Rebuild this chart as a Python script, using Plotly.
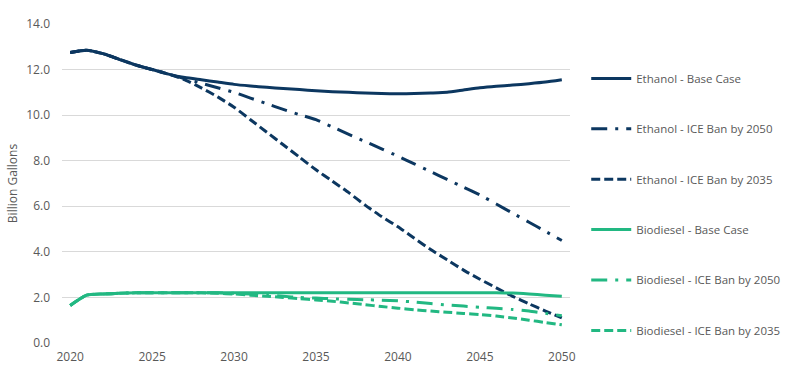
import plotly.graph_objects as go

years = list(range(2020, 2051))

ethanol_base = [12.75, 12.85, 12.7, 12.45, 12.2, 12.0, 11.8, 11.65, 11.55, 11.45,
                11.35, 11.28, 11.22, 11.17, 11.12, 11.07, 11.03, 11.0, 10.97, 10.95,
                10.94, 10.95, 10.97, 11.0, 11.1, 11.2, 11.27, 11.32, 11.38, 11.45, 11.55]

ethanol_ice2050 = [12.75, 12.85, 12.7, 12.45, 12.2, 12.0, 11.8, 11.6, 11.4, 11.2,
                   11.0, 10.75, 10.5, 10.25, 10.02, 9.8, 9.48, 9.16, 8.84, 8.52,
                   8.2, 7.86, 7.52, 7.18, 6.84, 6.5, 6.1, 5.7, 5.3, 4.9, 4.5]

ethanol_ice2035 = [12.75, 12.85, 12.7, 12.45, 12.2, 12.0, 11.8, 11.55, 11.2, 10.8,
                   10.35, 9.8, 9.25, 8.7, 8.15, 7.6, 7.1, 6.6, 6.05, 5.55,
                   5.1, 4.6, 4.1, 3.65, 3.2, 2.8, 2.42, 2.05, 1.72, 1.4, 1.1]

biodiesel_base = [1.65, 2.1, 2.15, 2.18, 2.2, 2.2, 2.2, 2.2, 2.2, 2.2,
                  2.2, 2.2, 2.2, 2.2, 2.2, 2.2, 2.2, 2.2, 2.2, 2.2,
                  2.2, 2.2, 2.2, 2.2, 2.2, 2.2, 2.2, 2.19, 2.15, 2.1, 2.05]

biodiesel_ice2050 = [1.65, 2.1, 2.15, 2.18, 2.2, 2.2, 2.2, 2.2, 2.2, 2.2,
                     2.18, 2.15, 2.1, 2.05, 2.0, 1.97, 1.94, 1.92, 1.9, 1.88,
                     1.85, 1.8, 1.73, 1.67, 1.62, 1.57, 1.52, 1.47, 1.4, 1.3, 1.2]

biodiesel_ice2035 = [1.65, 2.1, 2.15, 2.18, 2.2, 2.2, 2.2, 2.2, 2.2, 2.18,
                     2.15, 2.1, 2.05, 2.0, 1.95, 1.89, 1.83, 1.76, 1.68, 1.6,
                     1.53, 1.46, 1.4, 1.35, 1.3, 1.25, 1.18, 1.1, 1.0, 0.9, 0.8]

names = ["Ethanol - Base Case", "Ethanol - ICE Ban by 2050", "Ethanol - ICE Ban by 2035",
         "Biodiesel - Base Case", "Biodiesel - ICE Ban by 2050", "Biodiesel - ICE Ban by 2035"]

NAVY = "#0c3760"
GREEN = "#22b882"
series = [
    (ethanol_base, NAVY, "solid"),
    (ethanol_ice2050, NAVY, "16px,8px,3px,8px"),
    (ethanol_ice2035, NAVY, "9px,4px"),
    (biodiesel_base, GREEN, "solid"),
    (biodiesel_ice2050, GREEN, "16px,8px,3px,8px"),
    (biodiesel_ice2035, GREEN, "9px,4px"),
]

fig = go.Figure()
# draw scenario lines first, base cases on top
order = [1, 2, 0, 4, 5, 3]
for i in order:
    vals, col, dash = series[i]
    fig.add_trace(go.Scatter(
        x=years, y=vals, mode="lines", name=names[i],
        line=dict(color=col, width=3, dash=dash, shape="spline", smoothing=0.5),
        legendgroup=names[i], legendrank=i + 1,
    ))

fig.update_layout(
    width=789, height=376,
    margin=dict(l=62, r=219, t=24, b=33),
    paper_bgcolor="white", plot_bgcolor="white",
    font=dict(family="Open Sans", size=12, color="#595959"),
    showlegend=True,
    legend=dict(xref="container", yref="paper",
                x=0.743, y=0.875, xanchor="left", yanchor="top",
                tracegroupgap=31.4, itemwidth=40,
                font=dict(size=11.5, color="#595959"),
                bgcolor="rgba(0,0,0,0)"),
    xaxis=dict(range=[2019.5, 2050.5], tickvals=[2020, 2025, 2030, 2035, 2040, 2045, 2050],
               showgrid=False, zeroline=False, showline=False, ticks="",
               automargin=False, ticklabelstandoff=5,
               tickfont=dict(size=12, color="#595959")),
    yaxis=dict(range=[0, 14], tickvals=[0, 2, 4, 6, 8, 10, 12, 14], tickformat=".1f",
               showgrid=True, gridcolor="#d9d9d9", gridwidth=1, zeroline=False,
               showline=False, ticks="", automargin=False, ticklabelstandoff=11,
               title=dict(text="Billion Gallons", font=dict(size=12, color="#595959"), standoff=6),
               tickfont=dict(size=12, color="#595959")),
)

fig.write_html("out.html", config={"displayModeBar": False},
               post_script="document.body.style.margin='0';")
